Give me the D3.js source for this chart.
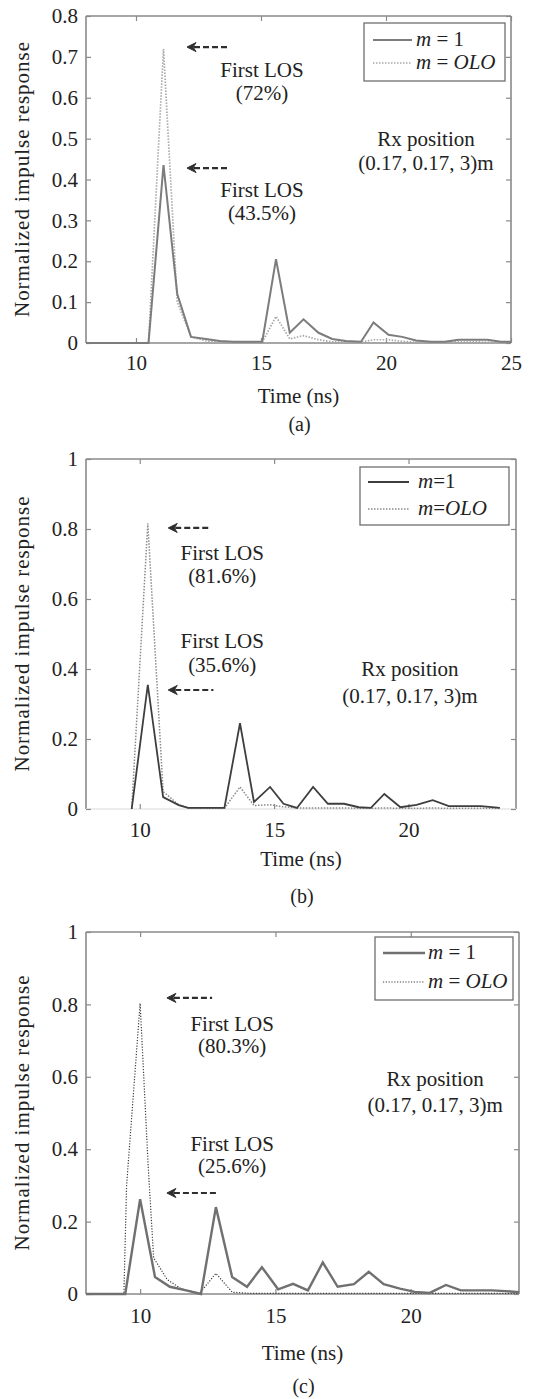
<!DOCTYPE html>
<html>
<head>
<meta charset="utf-8">
<script src="https://cdn.jsdelivr.net/npm/d3@7"></script>
<style>
  body { margin: 0; background: #fff; }
  svg text { font-family: "Liberation Serif", "DejaVu Serif", serif; fill: #222; }
</style>
</head>
<body>
<svg id="chart" width="540" height="1399"></svg>
<script>
// the data (time in ns, normalized impulse response)
const timeA = [8, 10.5, 11.1, 11.65, 12.2, 12.8, 13.35, 13.9, 14.5, 15.05, 15.6, 16.15, 16.7, 17.3, 17.85, 18.4, 19.0, 19.5, 20.1, 20.65, 21.2, 21.8, 22.35, 22.9, 23.5, 24.05, 24.6, 25];
const m1A   = [0, 0, 0.435, 0.12, 0.015, 0.01, 0.005, 0.003, 0.003, 0.003, 0.205, 0.025, 0.058, 0.025, 0.01, 0.005, 0.003, 0.05, 0.02, 0.015, 0.006, 0.003, 0.003, 0.008, 0.008, 0.008, 0.003, 0.003];
const oloA  = [0, 0, 0.72, 0.1, 0.015, 0.005, 0.002, 0.002, 0.002, 0.002, 0.065, 0.01, 0.018, 0.008, 0.003, 0.002, 0.002, 0.008, 0.008, 0.004, 0.002, 0.002, 0.002, 0.003, 0.003, 0.002, 0.002, 0.002];

const timeB = [9.7, 10.3, 10.87, 11.45, 11.8, 13.15, 13.73, 14.25, 14.85, 15.35, 15.85, 16.45, 17.0, 17.6, 18.15, 18.6, 19.1, 19.7, 20.3, 20.9, 21.5, 22.1, 22.7, 23.4];
const m1B   = [0, 0.355, 0.034, 0.011, 0.003, 0.003, 0.245, 0.02, 0.063, 0.015, 0.003, 0.063, 0.015, 0.015, 0.005, 0.003, 0.043, 0.005, 0.012, 0.025, 0.008, 0.008, 0.008, 0.003];
const oloB  = [0, 0.816, 0.05, 0.012, 0.003, 0.002, 0.063, 0.01, 0.012, 0.006, 0.003, 0.003, 0.003, 0.003, 0.002, 0.002, 0.003, 0.002, 0.002, 0.003, 0.002, 0.002, 0.002, 0.002];

const timeC = [8, 9.45, 10.0, 10.55, 11.1, 11.7, 12.25, 12.8, 13.4, 13.95, 14.5, 15.1, 15.65, 16.2, 16.75, 17.3, 17.9, 18.45, 19.0, 19.6, 20.15, 20.7, 21.3, 21.85, 22.4, 23.0, 23.5, 24];
const m1C   = [0, 0, 0.262, 0.047, 0.02, 0.01, 0, 0.24, 0.047, 0.02, 0.074, 0.013, 0.028, 0.01, 0.087, 0.02, 0.027, 0.061, 0.027, 0.015, 0.006, 0.003, 0.025, 0.01, 0.01, 0.01, 0.008, 0.005];
const timeCOlo = [8, 9.4, 9.5, 10.0, 10.3, 10.5, 11.0, 11.5, 12.2, 12.8, 13.4, 14.0, 24];
const oloC     = [0, 0, 0.3, 0.803, 0.35, 0.1, 0.04, 0.015, 0.002, 0.057, 0.005, 0.002, 0.002];

// ticks
const xTicksA = [10, 15, 20, 25];
const xTicksBC = [10, 15, 20];
const yTicksA = [0, 0.1, 0.2, 0.3, 0.4, 0.5, 0.6, 0.7, 0.8];
const yTicksBC = [0, 0.2, 0.4, 0.6, 0.8, 1];

// labels
const losA = ["(72%)", "(43.5%)"];
const losB = ["(81.6%)", "(35.6%)"];
const losC = ["(80.3%)", "(25.6%)"];
const panelTags = ["(a)", "(b)", "(c)"];

const svg = d3.select("#chart");

// layout of each panel (pixels) and annotation anchors (data coords)
const panels = [
  {
    tag: panelTags[0], time: timeA, m1: m1A, oloTime: timeA, olo: oloA,
    xDomain: [8, 25], yDomain: [0, 0.8], xTicks: xTicksA, yTicks: yTicksA,
    box: { x0: 86, x1: 511, y0: 16, y1: 343 }, bottomLine: "#8a8a8a",
    xPad: 12, timeY: 403, tagY: 431, spaced: true,
    m1Style: { stroke: "#7c7c7c", width: 2 },
    oloStyle: { stroke: "#a9a9a9", width: 1.7, dash: "1.5,1.5" },
    legend: { x0: 364, x1: 505, y0: 23, y1: 81, l0: 373, l1: 412, r1: 40, r2: 63, tx: 416 },
    arrows: [{ t: 12.04, v: 0.724, t2: 13.64 }, { t: 12.04, v: 0.428, t2: 13.64 }],
    los: losA, losT: 15.04, losV: [0.650, 0.594, 0.357, 0.301],
    rx: { t: 21.6, v1: 0.482, v2: 0.423 }
  },
  {
    tag: panelTags[1], time: timeB, m1: m1B, oloTime: timeB, olo: oloB,
    xDomain: [8, 24], yDomain: [0, 1], xTicks: xTicksBC, yTicks: yTicksBC,
    box: { x0: 86, x1: 516, y0: 459, y1: 809 }, bottomLine: "#e6e6e6",
    xPad: 13, timeY: 866, tagY: 903, spaced: false,
    m1Style: { stroke: "#3e3e3e", width: 1.8 },
    oloStyle: { stroke: "#8a8a8a", width: 1.5, dash: "1.5,1.5" },
    legend: { x0: 360, x1: 509, y0: 467, y1: 525, l0: 368, l1: 409, r1: 482, r2: 509, tx: 418 },
    arrows: [{ t: 11.06, v: 0.803, t2: 12.63 }, { t: 11.06, v: 0.34, t2: 12.74 }],
    los: losB, losT: 13.07, losV: [0.711, 0.646, 0.46, 0.391],
    rx: { t: 20.05, v1: 0.38, v2: 0.303 }
  },
  {
    tag: panelTags[2], time: timeC, m1: m1C, oloTime: timeCOlo, olo: oloC,
    xDomain: [8, 24], yDomain: [0, 1], xTicks: xTicksBC, yTicks: yTicksBC,
    box: { x0: 86, x1: 519, y0: 932, y1: 1294 }, bottomLine: "#8a8a8a",
    xPad: 14, timeY: 1360, tagY: 1393, spaced: true,
    m1Style: { stroke: "#707070", width: 2.4 },
    oloStyle: { stroke: "#3c3c3c", width: 1.2, dash: "1.2,1.6" },
    legend: { x0: 375, x1: 513, y0: 937, y1: 1000, l0: 383, l1: 425, r1: 953, r2: 982, tx: 428 },
    arrows: [{ t: 10.99, v: 0.818, t2: 12.66 }, { t: 10.99, v: 0.279, t2: 12.88 }],
    los: losC, losT: 13.4, losV: [0.727, 0.666, 0.395, 0.334],
    rx: { t: 20.9, v1: 0.574, v2: 0.503 }
  }
];

const fmtY = d => (d === 0 ? "0" : d === 1 ? "1" : d.toFixed(1));

panels.forEach(drawPanel);

function drawPanel(p) {
  const b = p.box;
  const x = d3.scaleLinear().domain(p.xDomain).range([b.x0, b.x1]);
  const y = d3.scaleLinear().domain(p.yDomain).range([b.y1, b.y0]);
  const g = svg.append("g");

  // frame
  const frame = "#8a8a8a";
  g.append("line").attr("x1", b.x0).attr("x2", b.x1).attr("y1", b.y0).attr("y2", b.y0)
    .attr("stroke", frame).attr("stroke-width", 1.6);
  g.append("line").attr("x1", b.x0).attr("x2", b.x0).attr("y1", b.y0).attr("y2", b.y1)
    .attr("stroke", frame).attr("stroke-width", 1.6);
  g.append("line").attr("x1", b.x1).attr("x2", b.x1).attr("y1", b.y0).attr("y2", b.y1)
    .attr("stroke", frame).attr("stroke-width", 1.6);
  g.append("line").attr("x1", b.x0).attr("x2", b.x1).attr("y1", b.y1).attr("y2", b.y1)
    .attr("stroke", p.bottomLine).attr("stroke-width", 1.6);

  // axes (ticks point inwards)
  const left = g.append("g").attr("transform", `translate(${b.x0},0)`)
    .call(d3.axisLeft(y).tickValues(p.yTicks).tickFormat(fmtY).tickSize(-5).tickPadding(8));
  const right = g.append("g").attr("transform", `translate(${b.x1},0)`)
    .call(d3.axisRight(y).tickValues(p.yTicks).tickFormat("").tickSize(-5));
  const bottom = g.append("g").attr("transform", `translate(0,${b.y1})`)
    .call(d3.axisBottom(x).tickValues(p.xTicks).tickFormat(d3.format("d")).tickSize(-5).tickPadding(p.xPad));
  const top = g.append("g").attr("transform", `translate(0,${b.y0})`)
    .call(d3.axisTop(x).tickValues(p.xTicks).tickFormat("").tickSize(-5));
  [left, right, bottom, top].forEach(a => {
    a.select(".domain").remove();
    a.selectAll(".tick line").attr("stroke", frame).attr("stroke-width", 1.2);
    a.selectAll("text").attr("font-size", 21).attr("fill", "#222")
      .attr("font-family", "Liberation Serif");
  });

  // axis titles
  g.append("text")
    .attr("transform", `translate(29,${(b.y0 + b.y1) / 2}) rotate(-90)`)
    .attr("text-anchor", "middle").attr("font-size", 21)
    .attr("textLength", 275).attr("lengthAdjust", "spacing")
    .text("Normalized impulse response");
  g.append("text").attr("x", (b.x0 + b.x1) / 2).attr("y", p.timeY)
    .attr("text-anchor", "middle").attr("font-size", 21).text("Time (ns)");
  g.append("text").attr("x", (b.x0 + b.x1) / 2 + 1).attr("y", p.tagY)
    .attr("text-anchor", "middle").attr("font-size", 20).text(p.tag);

  // series
  const oloPts = p.oloTime.map((t, i) => [t, p.olo[i]]);
  const m1Pts = p.time.map((t, i) => [t, p.m1[i]]);
  const line = d3.line().x(d => x(d[0])).y(d => y(d[1]));
  g.append("path").attr("d", line(oloPts)).attr("fill", "none")
    .attr("stroke", p.oloStyle.stroke).attr("stroke-width", p.oloStyle.width)
    .attr("stroke-dasharray", p.oloStyle.dash);
  g.append("path").attr("d", line(m1Pts)).attr("fill", "none")
    .attr("stroke", p.m1Style.stroke).attr("stroke-width", p.m1Style.width)
    .attr("stroke-linejoin", "miter");

  // legend
  const L = p.legend;
  g.append("rect").attr("x", L.x0).attr("y", L.y0).attr("width", L.x1 - L.x0).attr("height", L.y1 - L.y0)
    .attr("fill", "#fff").attr("stroke", "#6f6f6f").attr("stroke-width", 1.3);
  g.append("line").attr("x1", L.l0).attr("x2", L.l1).attr("y1", L.r1).attr("y2", L.r1)
    .attr("stroke", p.m1Style.stroke).attr("stroke-width", p.m1Style.width);
  g.append("line").attr("x1", L.l0).attr("x2", L.l1).attr("y1", L.r2).attr("y2", L.r2)
    .attr("stroke", p.oloStyle.stroke).attr("stroke-width", p.oloStyle.width)
    .attr("stroke-dasharray", p.oloStyle.dash);
  const eq = p.spaced ? " = " : "=";
  const t1 = g.append("text").attr("x", L.tx).attr("y", L.r1 + 6).attr("font-size", 21);
  t1.append("tspan").attr("font-style", "italic").text("m");
  t1.append("tspan").text(eq + "1");
  const t2 = g.append("text").attr("x", L.tx).attr("y", L.r2 + 6).attr("font-size", 21);
  t2.append("tspan").attr("font-style", "italic").text("m");
  t2.append("tspan").text(eq);
  t2.append("tspan").attr("font-style", "italic").text("OLO");

  // arrows
  p.arrows.forEach(a => {
    const x0 = x(a.t), x1 = x(a.t2), yy = y(a.v);
    g.append("line").attr("x1", x0 + 7).attr("x2", x1).attr("y1", yy).attr("y2", yy)
      .attr("stroke", "#2e2e2e").attr("stroke-width", 2.2).attr("stroke-dasharray", "6,3");
    g.append("path")
      .attr("d", `M${x0},${yy} L${x0 + 9},${yy - 4.5} L${x0 + 6},${yy} L${x0 + 9},${yy + 4.5} Z`)
      .attr("fill", "#2e2e2e").attr("stroke", "#2e2e2e").attr("stroke-width", 1);
  });

  // annotation text
  const notes = [
    ["First LOS", p.losV[0]], [p.los[0], p.losV[1]],
    ["First LOS", p.losV[2]], [p.los[1], p.losV[3]]
  ];
  notes.forEach(n => {
    g.append("text").attr("x", x(p.losT)).attr("y", y(n[1]))
      .attr("text-anchor", "middle").attr("font-size", 21).text(n[0]);
  });
  g.append("text").attr("x", x(p.rx.t)).attr("y", y(p.rx.v1))
    .attr("text-anchor", "middle").attr("font-size", 21).text("Rx position");
  g.append("text").attr("x", x(p.rx.t)).attr("y", y(p.rx.v2))
    .attr("text-anchor", "middle").attr("font-size", 21).text("(0.17, 0.17, 3)m");
}
</script>
</body>
</html>
